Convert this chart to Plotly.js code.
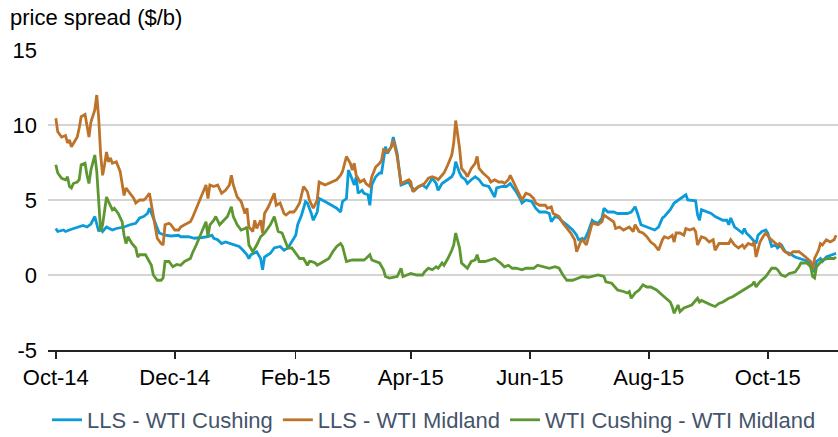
<!DOCTYPE html>
<html>
<head>
<meta charset="utf-8">
<script src="https://cdn.plot.ly/plotly-3.0.1.min.js"></script>
<style>
html,body{margin:0;padding:0;background:#fff;}
#chart{width:838px;height:437px;}
</style>
</head>
<body>
<div id="chart"></div>
<script>
// ---- Data ----
const seriesNames = ["LLS - WTI Cushing", "LLS - WTI Midland", "WTI Cushing - WTI Midland"];

const cushingDates = ["2014-10-01","2014-10-02","2014-10-05","2014-10-06","2014-10-09","2014-10-12","2014-10-15","2014-10-17","2014-10-19","2014-10-21","2014-10-22","2014-10-23","2014-10-24","2014-10-25","2014-10-27","2014-10-30","2014-11-01","2014-11-05","2014-11-08","2014-11-11","2014-11-13","2014-11-15","2014-11-17","2014-11-18","2014-11-20","2014-11-22","2014-11-23","2014-11-26","2014-11-29","2014-12-03","2014-12-04","2014-12-08","2014-12-11","2014-12-15","2014-12-18","2014-12-20","2014-12-21","2014-12-23","2014-12-25","2014-12-27","2014-12-29","2015-01-01","2015-01-03","2015-01-05","2015-01-07","2015-01-08","2015-01-09","2015-01-12","2015-01-14","2015-01-15","2015-01-16","2015-01-19","2015-01-21","2015-01-24","2015-01-26","2015-01-28","2015-01-30","2015-02-01","2015-02-02","2015-02-04","2015-02-06","2015-02-07","2015-02-09","2015-02-10","2015-02-12","2015-02-13","2015-02-16","2015-02-19","2015-02-22","2015-02-24","2015-02-25","2015-02-27","2015-02-28","2015-03-02","2015-03-03","2015-03-04","2015-03-05","2015-03-07","2015-03-08","2015-03-10","2015-03-11","2015-03-12","2015-03-14","2015-03-16","2015-03-17","2015-03-19","2015-03-20","2015-03-22","2015-03-23","2015-03-25","2015-03-27","2015-03-29","2015-03-31","2015-04-01","2015-04-03","2015-04-05","2015-04-07","2015-04-09","2015-04-12","2015-04-14","2015-04-15","2015-04-17","2015-04-18","2015-04-20","2015-04-22","2015-04-23","2015-04-24","2015-04-26","2015-04-27","2015-04-29","2015-04-30","2015-05-02","2015-05-04","2015-05-06","2015-05-08","2015-05-11","2015-05-12","2015-05-14","2015-05-15","2015-05-18","2015-05-20","2015-05-22","2015-05-23","2015-05-25","2015-05-27","2015-05-28","2015-05-30","2015-06-02","2015-06-04","2015-06-06","2015-06-09","2015-06-11","2015-06-12","2015-06-14","2015-06-16","2015-06-17","2015-06-20","2015-06-22","2015-06-23","2015-06-25","2015-06-26","2015-06-28","2015-06-29","2015-07-01","2015-07-03","2015-07-04","2015-07-06","2015-07-08","2015-07-09","2015-07-11","2015-07-14","2015-07-16","2015-07-19","2015-07-21","2015-07-23","2015-07-25","2015-07-26","2015-07-28","2015-07-31","2015-08-02","2015-08-04","2015-08-06","2015-08-08","2015-08-09","2015-08-12","2015-08-14","2015-08-15","2015-08-16","2015-08-18","2015-08-20","2015-08-21","2015-08-23","2015-08-25","2015-08-26","2015-08-27","2015-08-28","2015-08-31","2015-09-02","2015-09-04","2015-09-06","2015-09-08","2015-09-10","2015-09-11","2015-09-12","2015-09-14","2015-09-16","2015-09-18","2015-09-19","2015-09-20","2015-09-22","2015-09-24","2015-09-25","2015-09-26","2015-09-28","2015-09-30","2015-10-01","2015-10-03","2015-10-05","2015-10-06","2015-10-08","2015-10-10","2015-10-12","2015-10-15","2015-10-17","2015-10-20","2015-10-22","2015-10-23","2015-10-25","2015-10-26","2015-10-28","2015-10-29","2015-10-31","2015-11-03","2015-11-05"];
const cushingValues = [3.1,2.9,3.0,2.9,3.05,3.15,3.3,3.2,3.4,3.9,3.45,2.9,3.2,2.9,3.2,3.0,3.1,3.2,3.35,3.45,3.8,3.9,4.1,4.45,3.8,3.1,2.8,2.65,2.6,2.65,2.55,2.55,2.45,2.5,2.55,2.65,2.45,2.35,2.1,2.2,2.1,2.0,1.9,1.65,1.35,1.1,1.35,1.55,1.1,0.35,1.2,1.45,1.8,1.9,1.65,1.8,2.2,2.65,3.35,4.0,4.9,4.8,4.1,3.65,4.2,5.1,4.9,4.65,4.45,4.2,4.9,5.1,7.0,6.35,6.0,6.55,5.45,5.65,5.45,5.35,4.65,6.0,6.55,6.8,6.8,8.55,8.1,8.55,9.2,8.1,6.0,6.1,6.2,5.9,5.65,5.9,6.0,5.8,6.45,6.1,5.65,6.1,6.2,6.35,6.55,6.8,7.55,6.8,6.55,6.35,6.1,6.35,6.55,6.35,6.0,5.9,5.65,5.2,5.8,5.9,5.9,6.1,5.9,5.55,5.1,4.8,5.0,4.9,4.45,4.2,4.2,4.1,3.55,3.9,3.8,3.65,3.35,3.1,3.0,2.65,2.35,2.45,2.35,2.9,3.65,3.55,3.45,3.8,4.45,4.2,4.2,4.1,4.1,4.1,4.2,4.55,4.2,3.35,3.2,3.1,3.0,3.2,3.8,3.9,4.35,4.8,4.9,5.0,5.2,5.35,5.0,5.0,4.95,4.0,3.65,4.35,4.2,4.1,3.9,3.8,3.65,3.65,3.35,3.8,3.2,3.0,2.8,3.1,2.8,2.55,2.2,2.1,2.65,2.9,3.0,2.8,1.9,2.0,1.8,2.0,1.55,1.45,1.2,1.1,1.0,0.9,0.55,0.2,0.9,1.1,0.9,1.2,1.35,1.45];

const midlandDates = ["2014-10-01","2014-10-02","2014-10-04","2014-10-06","2014-10-07","2014-10-08","2014-10-09","2014-10-11","2014-10-12","2014-10-13","2014-10-14","2014-10-16","2014-10-17","2014-10-18","2014-10-19","2014-10-21","2014-10-22","2014-10-23","2014-10-24","2014-10-25","2014-10-26","2014-10-27","2014-10-28","2014-10-29","2014-10-30","2014-11-01","2014-11-03","2014-11-04","2014-11-05","2014-11-06","2014-11-08","2014-11-10","2014-11-11","2014-11-13","2014-11-15","2014-11-16","2014-11-18","2014-11-19","2014-11-21","2014-11-22","2014-11-24","2014-11-25","2014-11-26","2014-11-28","2014-11-29","2014-12-01","2014-12-03","2014-12-04","2014-12-06","2014-12-09","2014-12-10","2014-12-12","2014-12-15","2014-12-17","2014-12-18","2014-12-19","2014-12-21","2014-12-23","2014-12-25","2014-12-27","2014-12-29","2014-12-30","2014-12-31","2015-01-02","2015-01-04","2015-01-06","2015-01-07","2015-01-08","2015-01-10","2015-01-11","2015-01-12","2015-01-14","2015-01-15","2015-01-16","2015-01-18","2015-01-20","2015-01-21","2015-01-22","2015-01-24","2015-01-26","2015-01-27","2015-01-29","2015-01-31","2015-02-01","2015-02-03","2015-02-05","2015-02-07","2015-02-08","2015-02-10","2015-02-12","2015-02-13","2015-02-16","2015-02-18","2015-02-20","2015-02-22","2015-02-24","2015-02-25","2015-02-27","2015-03-01","2015-03-02","2015-03-03","2015-03-04","2015-03-06","2015-03-08","2015-03-09","2015-03-11","2015-03-12","2015-03-14","2015-03-16","2015-03-17","2015-03-18","2015-03-20","2015-03-22","2015-03-23","2015-03-25","2015-03-27","2015-03-29","2015-03-31","2015-04-01","2015-04-02","2015-04-04","2015-04-07","2015-04-08","2015-04-10","2015-04-12","2015-04-14","2015-04-15","2015-04-17","2015-04-18","2015-04-20","2015-04-22","2015-04-23","2015-04-24","2015-04-26","2015-04-27","2015-04-29","2015-04-30","2015-05-02","2015-05-04","2015-05-05","2015-05-06","2015-05-08","2015-05-11","2015-05-12","2015-05-14","2015-05-16","2015-05-18","2015-05-19","2015-05-21","2015-05-22","2015-05-24","2015-05-25","2015-05-27","2015-05-28","2015-05-30","2015-06-01","2015-06-03","2015-06-04","2015-06-06","2015-06-09","2015-06-10","2015-06-12","2015-06-13","2015-06-15","2015-06-16","2015-06-18","2015-06-20","2015-06-22","2015-06-24","2015-06-25","2015-06-27","2015-06-28","2015-06-30","2015-07-02","2015-07-03","2015-07-06","2015-07-08","2015-07-09","2015-07-11","2015-07-14","2015-07-15","2015-07-17","2015-07-19","2015-07-21","2015-07-22","2015-07-24","2015-07-25","2015-07-27","2015-07-29","2015-07-31","2015-08-02","2015-08-04","2015-08-06","2015-08-08","2015-08-09","2015-08-11","2015-08-13","2015-08-14","2015-08-15","2015-08-17","2015-08-19","2015-08-20","2015-08-22","2015-08-24","2015-08-25","2015-08-26","2015-08-28","2015-08-30","2015-09-01","2015-09-03","2015-09-04","2015-09-06","2015-09-09","2015-09-11","2015-09-12","2015-09-14","2015-09-16","2015-09-18","2015-09-19","2015-09-21","2015-09-23","2015-09-24","2015-09-25","2015-09-27","2015-09-29","2015-09-30","2015-10-02","2015-10-04","2015-10-06","2015-10-07","2015-10-09","2015-10-11","2015-10-12","2015-10-14","2015-10-16","2015-10-17","2015-10-19","2015-10-21","2015-10-23","2015-10-24","2015-10-25","2015-10-27","2015-10-28","2015-10-29","2015-10-31","2015-11-02","2015-11-04","2015-11-05"];
const midlandValues = [10.45,9.55,9.2,9.3,8.8,9.0,8.55,9.0,9.2,9.8,10.55,10.7,9.8,9.2,10.2,11.0,12.0,10.45,8.0,6.65,7.35,8.2,7.55,7.8,7.45,7.55,6.9,6.0,5.3,5.8,5.45,5.1,4.8,5.0,5.0,5.1,5.45,4.65,3.1,2.45,2.1,2.0,3.35,3.45,3.35,3.0,3.0,3.2,3.35,3.55,3.8,4.45,5.35,6.0,5.1,6.0,5.9,6.0,5.45,5.65,6.0,6.65,6.0,5.2,4.9,4.1,4.45,3.2,2.9,3.65,3.1,3.65,2.8,4.1,4.55,5.1,5.45,4.65,4.8,4.1,4.0,4.2,4.2,4.35,4.8,5.9,5.55,5.0,4.45,5.0,6.2,6.0,6.1,6.2,6.35,6.65,6.9,7.9,7.45,7.0,7.45,6.65,6.2,6.35,6.1,5.9,6.55,7.2,7.45,7.65,8.35,8.2,8.55,9.0,7.9,6.1,6.2,6.35,6.2,5.55,5.8,6.0,6.1,6.45,6.55,6.45,6.35,6.65,6.8,7.35,8.0,8.8,10.3,8.45,7.1,6.8,6.55,7.1,7.45,7.9,7.1,6.8,6.45,6.2,6.35,6.2,6.2,6.1,6.35,6.65,6.1,5.8,5.35,5.0,5.45,5.35,5.1,4.8,4.65,4.65,4.45,4.55,4.1,4.0,3.9,3.45,3.15,2.8,2.35,1.55,2.2,2.35,2.0,2.9,3.45,3.35,3.55,4.0,3.8,3.55,3.1,3.2,3.0,3.1,3.2,2.9,3.35,2.9,2.8,2.55,2.2,2.0,1.65,2.35,2.55,2.45,2.65,2.2,2.8,2.8,2.65,3.1,3.0,3.1,2.9,2.0,2.55,2.45,2.2,2.35,1.65,2.1,2.1,2.1,2.35,2.0,1.8,2.0,1.8,2.1,2.0,2.2,1.2,2.2,2.65,2.8,2.45,2.2,2.0,2.1,1.65,1.45,1.35,1.55,1.55,1.55,1.35,1.1,0.9,0.35,1.1,1.65,2.1,2.0,2.35,2.2,2.35,2.65];

const wtiDates = ["2014-10-01","2014-10-02","2014-10-04","2014-10-06","2014-10-07","2014-10-08","2014-10-09","2014-10-10","2014-10-12","2014-10-13","2014-10-14","2014-10-16","2014-10-17","2014-10-18","2014-10-19","2014-10-21","2014-10-22","2014-10-23","2014-10-24","2014-10-25","2014-10-26","2014-10-27","2014-10-28","2014-10-30","2014-10-31","2014-11-02","2014-11-04","2014-11-05","2014-11-06","2014-11-07","2014-11-09","2014-11-11","2014-11-12","2014-11-13","2014-11-16","2014-11-17","2014-11-19","2014-11-20","2014-11-22","2014-11-24","2014-11-25","2014-11-26","2014-11-28","2014-11-30","2014-12-02","2014-12-04","2014-12-06","2014-12-09","2014-12-10","2014-12-12","2014-12-15","2014-12-17","2014-12-18","2014-12-19","2014-12-21","2014-12-22","2014-12-24","2014-12-26","2014-12-28","2014-12-30","2014-12-31","2015-01-02","2015-01-04","2015-01-06","2015-01-07","2015-01-08","2015-01-10","2015-01-12","2015-01-14","2015-01-16","2015-01-19","2015-01-21","2015-01-22","2015-01-23","2015-01-25","2015-01-26","2015-01-28","2015-01-30","2015-02-01","2015-02-03","2015-02-05","2015-02-07","2015-02-08","2015-02-09","2015-02-11","2015-02-12","2015-02-14","2015-02-17","2015-02-18","2015-02-20","2015-02-22","2015-02-24","2015-02-25","2015-02-27","2015-03-02","2015-03-05","2015-03-08","2015-03-09","2015-03-11","2015-03-12","2015-03-14","2015-03-16","2015-03-18","2015-03-19","2015-03-21","2015-03-24","2015-03-25","2015-03-27","2015-03-28","2015-03-30","2015-04-01","2015-04-04","2015-04-07","2015-04-08","2015-04-10","2015-04-12","2015-04-14","2015-04-15","2015-04-17","2015-04-18","2015-04-20","2015-04-22","2015-04-23","2015-04-24","2015-04-26","2015-04-27","2015-04-29","2015-04-30","2015-05-02","2015-05-04","2015-05-05","2015-05-06","2015-05-09","2015-05-12","2015-05-14","2015-05-17","2015-05-19","2015-05-21","2015-05-23","2015-05-25","2015-05-28","2015-05-30","2015-06-03","2015-06-05","2015-06-08","2015-06-11","2015-06-14","2015-06-16","2015-06-18","2015-06-20","2015-06-23","2015-06-26","2015-06-28","2015-07-01","2015-07-03","2015-07-06","2015-07-09","2015-07-10","2015-07-13","2015-07-15","2015-07-16","2015-07-19","2015-07-21","2015-07-22","2015-07-23","2015-07-25","2015-07-27","2015-07-29","2015-07-31","2015-08-02","2015-08-05","2015-08-08","2015-08-10","2015-08-12","2015-08-13","2015-08-14","2015-08-16","2015-08-17","2015-08-19","2015-08-21","2015-08-23","2015-08-26","2015-08-27","2015-08-28","2015-08-31","2015-09-02","2015-09-04","2015-09-06","2015-09-08","2015-09-11","2015-09-13","2015-09-16","2015-09-18","2015-09-21","2015-09-23","2015-09-24","2015-09-25","2015-09-27","2015-09-30","2015-10-01","2015-10-03","2015-10-05","2015-10-06","2015-10-08","2015-10-10","2015-10-12","2015-10-15","2015-10-17","2015-10-18","2015-10-21","2015-10-23","2015-10-24","2015-10-25","2015-10-26","2015-10-28","2015-10-29","2015-11-01","2015-11-04","2015-11-05"];
const wtiValues = [7.35,6.8,6.45,6.35,6.55,5.9,5.8,6.1,6.2,6.35,7.35,7.45,6.65,6.1,7.0,8.0,6.9,4.65,2.9,3.35,4.45,5.2,4.9,4.35,4.45,4.1,3.55,2.65,2.1,2.55,2.1,1.8,1.2,1.35,1.35,1.1,0.65,0.0,-0.35,-0.35,-0.2,0.9,0.9,0.55,0.7,0.65,0.9,1.1,1.45,2.0,2.9,3.55,2.55,3.35,3.65,3.9,3.35,3.65,3.9,4.55,3.9,3.35,3.0,3.1,3.2,2.0,1.55,2.0,2.55,2.8,3.35,3.9,3.35,2.9,2.8,2.45,1.8,1.8,1.45,1.1,1.1,0.65,0.9,0.9,0.8,0.65,0.8,1.0,1.1,1.55,1.9,2.1,1.9,0.9,1.0,1.0,1.0,1.1,1.35,1.0,0.9,0.8,0.35,-0.1,-0.2,-0.1,-0.1,0.45,-0.1,0.0,0.1,0.0,0.0,0.2,0.45,0.35,0.55,0.45,0.8,0.65,1.1,1.65,2.0,2.8,1.8,0.8,0.55,0.45,0.9,1.0,1.35,0.9,0.9,1.0,1.1,0.8,0.55,0.65,0.45,0.45,0.35,0.45,0.45,0.65,0.55,0.45,0.55,0.45,0.0,-0.35,-0.35,-0.2,-0.1,-0.15,-0.1,0.0,-0.1,-0.45,-0.55,-0.9,-1.0,-1.1,-1.2,-1.1,-1.55,-1.2,-1.0,-0.65,-0.8,-0.8,-1.0,-1.35,-1.55,-1.8,-2.1,-2.55,-2.0,-2.45,-2.2,-2.1,-2.0,-1.55,-1.8,-1.7,-1.9,-2.0,-2.1,-1.9,-1.8,-1.55,-1.45,-1.2,-1.0,-0.8,-0.65,-0.45,-0.8,-0.45,-0.1,0.1,0.45,0.45,0.35,0.0,-0.1,0.1,0.2,0.55,0.8,0.8,0.55,-0.1,-0.2,0.55,0.9,1.0,1.1,1.1,1.2];

const tickDates = ["2014-10-01","2014-12-01","2015-02-01","2015-04-01","2015-06-01","2015-08-01","2015-10-01"];
const tickLabels = ["Oct-14","Dec-14","Feb-15","Apr-15","Jun-15","Aug-15","Oct-15"];
const yTicks = [-5, 0, 5, 10, 15];
const yTickLabels = ["-5", "0", "5", "10", "15"];

// ---- Styling ----
const colors = ["#0a9bd9", "#bd732a", "#5d9732"];
const FONT = "Liberation Sans, Arial, Helvetica, sans-serif";

const traces = [
  {x: cushingDates, y: cushingValues, name: seriesNames[0]},
  {x: midlandDates, y: midlandValues, name: seriesNames[1]},
  {x: wtiDates, y: wtiValues, name: seriesNames[2]}
].map((t, i) => Object.assign(t, {
  type: "scatter", mode: "lines",
  line: {color: colors[i], width: 2.8},
  hoverinfo: "skip"
}));

const layout = {
  width: 838, height: 437,
  margin: {l: 48, r: 0, t: 50, b: 87, pad: 0},
  paper_bgcolor: "#ffffff", plot_bgcolor: "#ffffff",
  font: {family: FONT, size: 22, color: "#000000"},
  title: {
    text: "price spread ($/b)",
    xref: "container", yref: "container",
    x: 10/838, xanchor: "left",
    y: 1 - 17/437, yanchor: "middle",
    font: {family: FONT, size: 22, color: "#000000"}
  },
  showlegend: true,
  legend: {
    orientation: "h",
    xref: "container", yref: "container",
    x: 434/838, xanchor: "center",
    y: 1 - 420/437, yanchor: "middle",
    font: {family: FONT, size: 22, color: "#44546a"},
    itemwidth: 30,
    tracegroupgap: 0,
    bgcolor: "rgba(0,0,0,0)"
  },
  xaxis: {
    type: "date",
    range: ["2014-09-27", "2015-11-06"],
    tickmode: "array",
    tickvals: tickDates,
    ticktext: tickLabels,
    showgrid: false,
    zeroline: false,
    showline: true, linecolor: "#222222", linewidth: 1.5,
    ticks: "outside", ticklen: 7, tickwidth: 1.5, tickcolor: "#222222",
    ticklabelstandoff: 0,
    tickfont: {family: FONT, size: 22, color: "#000000"},
    fixedrange: true
  },
  yaxis: {
    range: [-5, 15],
    tickmode: "array",
    tickvals: yTicks,
    ticktext: yTickLabels,
    showgrid: true, gridcolor: "#d4d4d4", gridwidth: 1.5,
    zeroline: false,
    showline: false,
    ticks: "",
    ticklabelstandoff: 10,
    tickfont: {family: FONT, size: 22, color: "#000000"},
    fixedrange: true
  },
  hovermode: false
};

Plotly.newPlot("chart", traces, layout, {displayModeBar: false, staticPlot: true});
</script>
</body>
</html>
